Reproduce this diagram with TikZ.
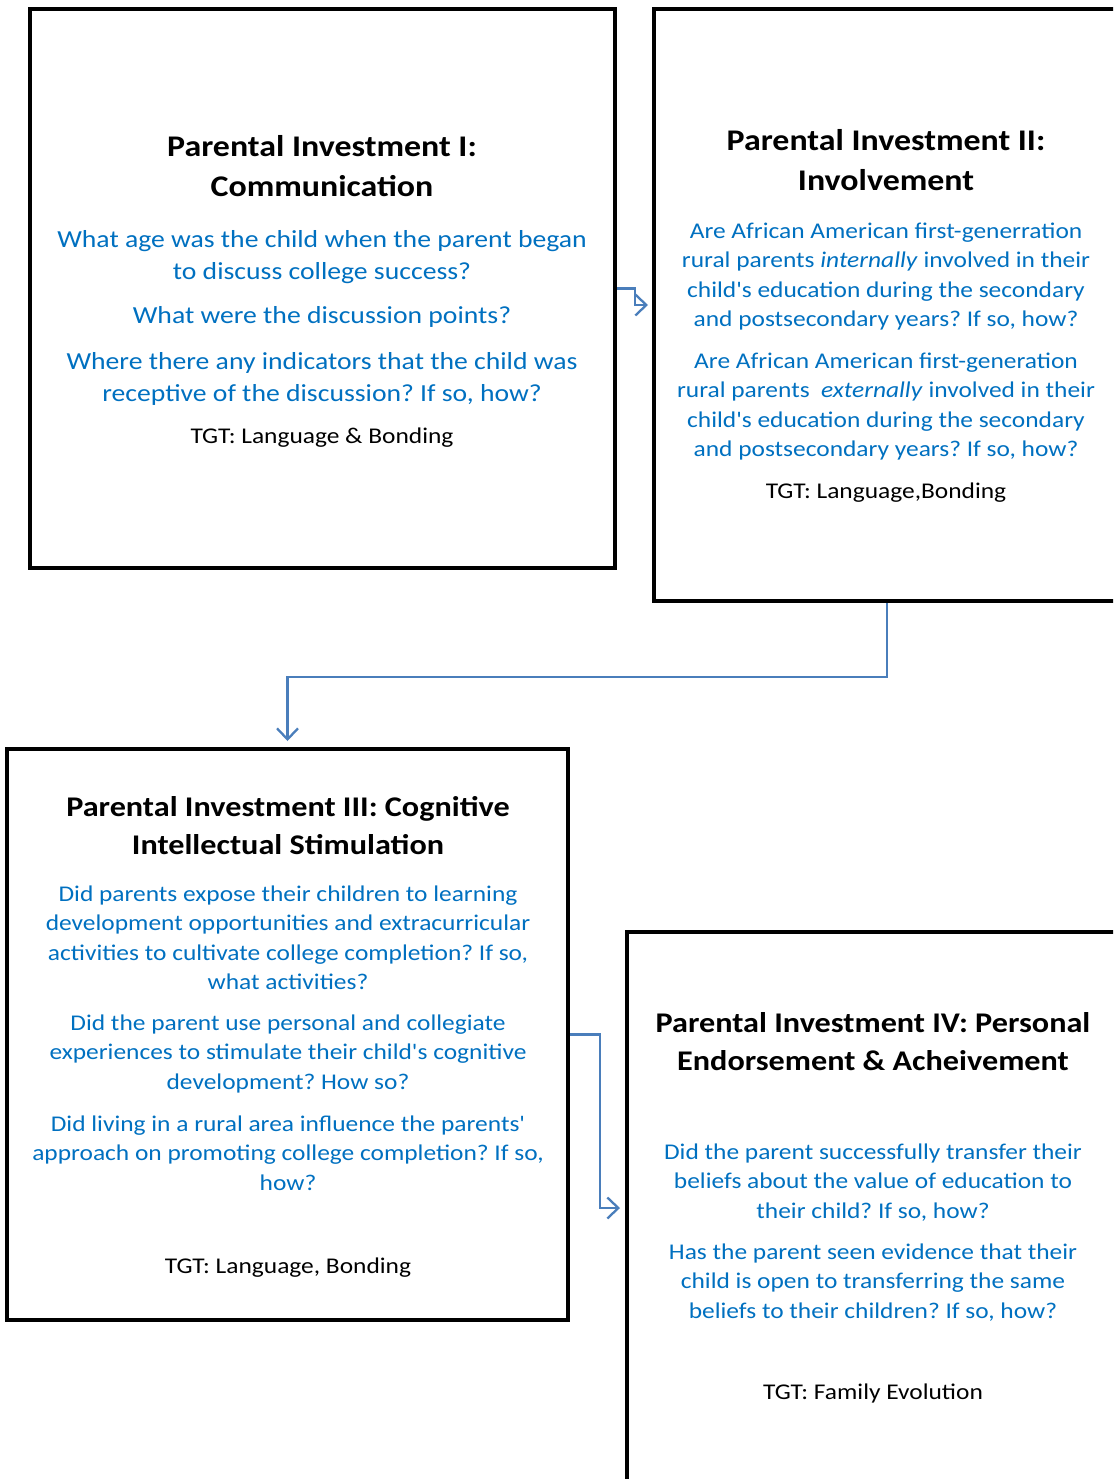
\documentclass[tikz,border=0pt]{standalone}
\usepackage{fontspec}
\setmainfont{Carlito}[FakeStretch=1.13, Ligatures=TeXOff]
\usetikzlibrary{arrows.meta}
\frenchspacing
\definecolor{qblue}{RGB}{0,112,192}
\definecolor{arrblue}{RGB}{74,126,187}
\tikzset{
  box/.style={draw=black, line width=4pt, rectangle, inner sep=0pt},
  ttl/.style={anchor=north, inner sep=0pt, align=center, font=\fontsize{30}{40}\bfseries\selectfont},
  ttlb/.style={anchor=north, inner sep=0pt, align=center, font=\fontsize{28.5}{38}\bfseries\selectfont},
  qa/.style={anchor=north, inner sep=0pt, align=center, text=qblue, font=\fontsize{24.5}{32}\selectfont},
  qb/.style={anchor=north, inner sep=0pt, align=center, text=qblue, font=\fontsize{22.5}{29.5}\selectfont},
  tgt/.style={anchor=north, inner sep=0pt, align=center, text=black, font=\fontsize{22.5}{29.5}\selectfont},
  arr/.style={draw=arrblue, line width=2.3pt, -{Straight Barb[length=11pt,width=21pt,line width=2.3pt]}}
}
\begin{document}
\begin{tikzpicture}[x=1pt,y=-1pt]
\useasboundingbox (0,0) rectangle (1113,1479);
\clip (0,0) rectangle (1113,1479);
% boxes
\node[box, minimum width=585, minimum height=559] (b1) at (322.5,288.5) {};
\node[box, minimum width=466, minimum height=592] (b2) at (887,305) {};
\node[box, minimum width=561, minimum height=571] (b3) at (287.5,1034.5) {};
\node[box, minimum width=492, minimum height=558] (b4) at (873,1211) {};
% box 1 text
\node[ttl] (t1) at (322,135) {Parental Investment I:\\Communication};
\node[qa] (p11) at (322,230) {What age was the child when the parent began\\to discuss college success?};
\node[qa] (p12) at (322,306) {What were the discussion points?};
\node[qa] (p13) at (322,352) {Where there any indicators that the child was\\receptive of the discussion? If so, how?};
\node[tgt] (g1) at (322,427.5) {TGT: Language \& Bonding};
% box 2 text
\node[ttl] (t2) at (886,129) {Parental Investment II:\\Involvement};
\node[qb] (p21) at (886,222.5) {Are African American first-generration\\rural parents \textit{internally} involved in their\\child's education during the secondary\\and postsecondary years? If so, how?};
\node[qb] (p22) at (886,352.5) {Are African American first-generation\\rural parents \ \textit{externally} involved in their\\child's education during the secondary\\and postsecondary years? If so, how?};
\node[tgt] (g2) at (886,482.5) {TGT: Language,Bonding};
% box 3 text
\node[ttlb] (t3) at (288,796) {Parental Investment III: Cognitive\\Intellectual Stimulation};
\node[qb] (p31) at (288,885.5) {Did parents expose their children to learning\\development opportunities and extracurricular\\activities to cultivate college completion? If so,\\what activities?};
\node[qb] (p32) at (288,1014.5) {Did the parent use personal and collegiate\\experiences to stimulate their child's cognitive\\development? How so?};
\node[qb] (p33) at (288,1115.5) {Did living in a rural area influence the parents'\\approach on promoting college completion? If so,\\how?};
\node[tgt] (g3) at (288,1257.5) {TGT: Language, Bonding};
% box 4 text
\node[ttlb] (t4) at (873,1012) {Parental Investment IV: Personal\\Endorsement \& Acheivement};
\node[qb] (p41) at (873,1143.5) {Did the parent successfully transfer their\\beliefs about the value of education to\\their child? If so, how?};
\node[qb] (p42) at (873,1243.5) {Has the parent seen evidence that their\\child is open to transferring the same\\beliefs to their children? If so, how?};
\node[tgt] (g4) at (873,1383.5) {TGT: Family Evolution};
% connectors
\draw[arr, shorten >=4pt] (b1.east) -- ++(18,0) |- (b2.west);
\draw[arr, shorten >=6pt] (b2.south) -- ++(0,74) -| (b3.north);
\draw[arr, shorten >=5pt] (b3.east) -- ++(30,0) |- ([yshift=3pt]b4.west);
\end{tikzpicture}
\end{document}
